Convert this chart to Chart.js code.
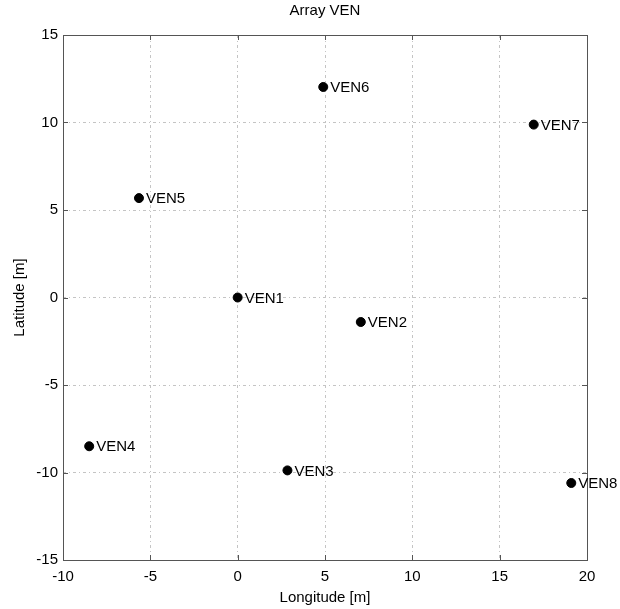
<!DOCTYPE html>
<html>
<head>
<meta charset="utf-8">
<script src="https://cdn.jsdelivr.net/npm/chart.js@4/dist/chart.umd.min.js"></script>
<style>
html,body{margin:0;padding:0;background:#fff;}
#wrap{width:620px;height:609px;}
</style>
</head>
<body>
<div id="wrap"><canvas id="c" width="620" height="609"></canvas></div>
<script>
const names = ["VEN1","VEN2","VEN3","VEN4","VEN5","VEN6","VEN7","VEN8"];
const lon = [0, 7.05, 2.85, -8.5, -5.65, 4.9, 16.95, 19.1];
const lat = [0, -1.4, -9.88, -8.5, 5.68, 12.03, 9.88, -10.6];
const xTicks = [-10, -5, 0, 5, 10, 15, 20];
const yTicks = [-15, -10, -5, 0, 5, 10, 15];

const FONT = "'Liberation Sans', Arial, sans-serif";
const GRID_DASH = [3, 3, 1, 3];

const boxPlugin = {
  id: 'box',
  afterDatasetsDraw(chart) {
    const ctx = chart.ctx, a = chart.chartArea;
    const xs = chart.scales.x, ys = chart.scales.y;
    ctx.save();
    ctx.strokeStyle = '#555';
    ctx.lineWidth = 1;
    ctx.setLineDash([]);
    ctx.strokeRect(Math.round(a.left)+0.5, Math.round(a.top)+0.5, Math.round(a.right-a.left), Math.round(a.bottom-a.top));
    ctx.beginPath();
    xTicks.forEach(v => {
      const px = Math.round(xs.getPixelForValue(v)) + 0.5;
      ctx.moveTo(px, a.bottom); ctx.lineTo(px, a.bottom - 5);
      ctx.moveTo(px, a.top); ctx.lineTo(px, a.top + 5);
    });
    yTicks.forEach(v => {
      const py = Math.round(ys.getPixelForValue(v)) + 0.5;
      ctx.moveTo(a.left, py); ctx.lineTo(a.left + 5, py);
      ctx.moveTo(a.right, py); ctx.lineTo(a.right - 5, py);
    });
    ctx.stroke();
    const meta = chart.getDatasetMeta(0);
    ctx.fillStyle = '#000';
    ctx.font = '15px ' + FONT;
    ctx.textBaseline = 'middle';
    ctx.textAlign = 'left';
    meta.data.forEach((pt, i) => {
      ctx.fillText(names[i], pt.x + 7, pt.y + 1);
    });
    ctx.restore();
  }
};

new Chart(document.getElementById('c'), {
  type: 'scatter',
  data: {
    datasets: [{
      data: lon.map((x, i) => ({x: x, y: lat[i]})),
      backgroundColor: '#000',
      borderColor: '#000',
      pointRadius: 4.5,
      pointHoverRadius: 4.5
    }]
  },
  options: {
    responsive: false,
    animation: false,
    events: [],
    layout: { padding: { left: 0, right: 33, top: 0, bottom: 0 } },
    plugins: {
      legend: { display: false },
      tooltip: { enabled: false },
      title: {
        display: true,
        fullSize: false,
        text: 'Array VEN',
        color: '#000',
        font: { family: FONT, size: 15, weight: 'normal' },
        padding: { top: 2, bottom: 15 }
      }
    },
    scales: {
      x: {
        type: 'linear',
        min: -10, max: 20,
        afterFit(s) { s.height = 49; },
        afterBuildTicks(s) { s.ticks = xTicks.map(v => ({value: v})); },
        ticks: { color: '#000', padding: 8, maxRotation: 0, font: { family: FONT, size: 15 } },
        grid: { color: '#c4c4c4', drawTicks: false },
        border: { display: false, dash: GRID_DASH },
        title: { display: true, text: 'Longitude [m]', color: '#000', font: { family: FONT, size: 15 }, padding: { top: 0, bottom: 2 } }
      },
      y: {
        type: 'linear',
        min: -15, max: 15,
        afterFit(s) { s.width = 63; },
        afterBuildTicks(s) { s.ticks = yTicks.map(v => ({value: v})); },
        ticks: { color: '#000', padding: 5, font: { family: FONT, size: 15 } },
        grid: { color: '#c4c4c4', drawTicks: false },
        border: { display: false, dash: GRID_DASH },
        title: { display: true, text: 'Latitude [m]', color: '#000', font: { family: FONT, size: 15 }, padding: { top: 11, bottom: 0 } }
      }
    }
  },
  plugins: [boxPlugin]
});
</script>
</body>
</html>
